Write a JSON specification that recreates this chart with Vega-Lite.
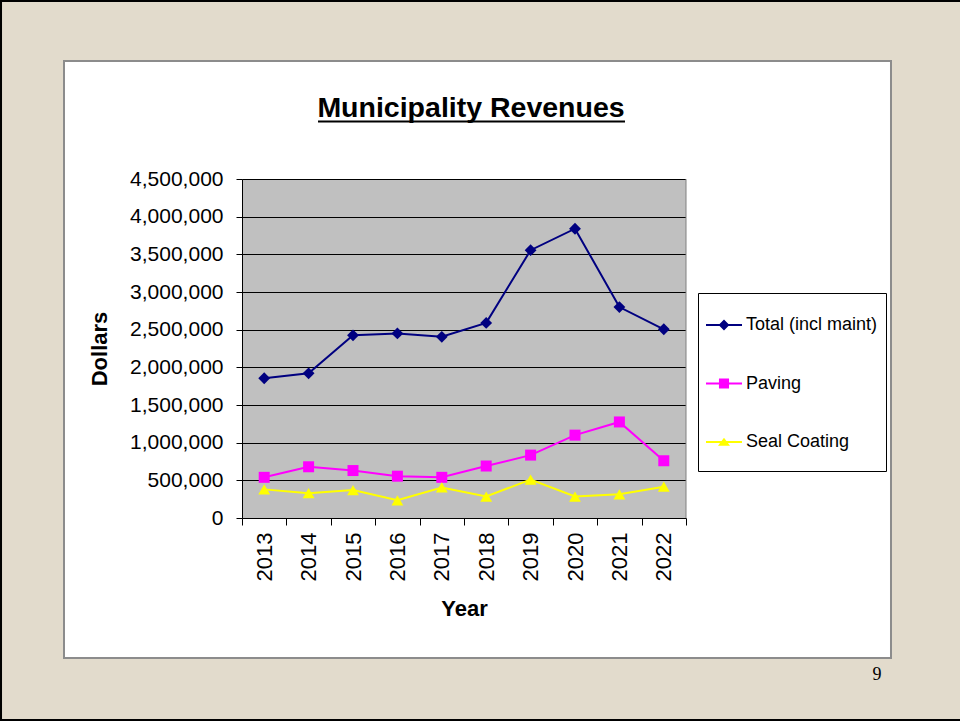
{
  "$schema": "https://vega.github.io/schema/vega-lite/v6.json",
  "width": 444,
  "height": 339,
  "autosize": {"type": "none"},
  "padding": {"left": 242, "top": 179, "right": 274, "bottom": 203},
  "background": "#E2DBCC",
  "config": {
    "font": "Liberation Sans",
    "view": {"fill": "#C0C0C0", "stroke": null},
    "axis": {"labelFont": "Liberation Sans", "titleFont": "Liberation Sans", "labelColor": "#000000", "titleColor": "#000000", "domainColor": "#000000", "tickColor": "#000000", "domainWidth": 1, "tickWidth": 1}
  },
  "title": {"text": "Municipality Revenues", "fontSize": 28.5, "fontWeight": "bold", "font": "Liberation Sans", "color": "#000000", "frame": "group", "anchor": "middle", "baseline": "alphabetic", "offset": 0, "dx": 7, "dy": 147},
  "layer": [
    {
      "data": {"values": [{}]},
      "layer": [
        {"mark": {"type": "rect", "fill": "#FFFFFF", "clip": false}, "encoding": {"x": {"datum": -0.4009, "type": "quantitative", "scale": {"domain": [0, 1], "nice": false, "zero": false}, "axis": null}, "x2": {"datum": 1.4617}, "y": {"datum": 1, "type": "quantitative", "scale": {"domain": [0, 1], "nice": false, "zero": false}, "axis": null}, "y2": {"datum": 1.3481}}},
        {"mark": {"type": "rect", "fill": "#FFFFFF", "clip": false}, "encoding": {"x": {"datum": -0.4009, "type": "quantitative"}, "x2": {"datum": 1.4617}, "y": {"datum": -0.413, "type": "quantitative"}, "y2": {"datum": 0}}},
        {"mark": {"type": "rect", "fill": "#FFFFFF", "clip": false}, "encoding": {"x": {"datum": -0.4009, "type": "quantitative"}, "x2": {"datum": 0}, "y": {"datum": 0, "type": "quantitative"}, "y2": {"datum": 1}}},
        {"mark": {"type": "rect", "fill": "#FFFFFF", "clip": false}, "encoding": {"x": {"datum": 1, "type": "quantitative"}, "x2": {"datum": 1.4617}, "y": {"datum": 0, "type": "quantitative"}, "y2": {"datum": 1}}},
        {"mark": {"type": "rect", "fillOpacity": 0, "stroke": "#8C8C8C", "strokeWidth": 2, "clip": false}, "encoding": {"x": {"datum": -0.4009, "type": "quantitative"}, "x2": {"datum": 1.4617}, "y": {"datum": -0.413, "type": "quantitative"}, "y2": {"datum": 1.3481}}},
        {"mark": {"type": "rect", "fillOpacity": 0, "stroke": "#000000", "strokeWidth": 4, "clip": false}, "encoding": {"x": {"datum": -0.545, "type": "quantitative"}, "x2": {"datum": 1.6306}, "y": {"datum": -0.5988, "type": "quantitative"}, "y2": {"datum": 1.528}}},
        {"mark": {"type": "rule", "stroke": "#808080", "strokeWidth": 1, "clip": false}, "encoding": {"x": {"datum": 1, "type": "quantitative"}, "y": {"datum": 0, "type": "quantitative"}, "y2": {"datum": 1}}},
        {"mark": {"type": "rule", "stroke": "#000000", "strokeWidth": 2, "clip": false}, "encoding": {"x": {"datum": 0.1712, "type": "quantitative"}, "x2": {"datum": 0.8626}, "y": {"datum": 1.1696, "type": "quantitative"}}},
        {"mark": {"type": "text", "text": "9", "font": "Liberation Serif", "fontSize": 18, "color": "#000000", "align": "center", "baseline": "alphabetic", "clip": false}, "encoding": {"x": {"datum": 1.4302, "type": "quantitative"}, "y": {"datum": -0.4779, "type": "quantitative"}}}
      ]
    },
    {
      "data": {"values": []},
      "mark": "rule",
      "encoding": {
        "y": {"field": "v", "type": "quantitative", "scale": {"domain": [0, 4500000], "nice": false}, "axis": {"orient": "right", "grid": true, "gridColor": "#000000", "gridWidth": 1, "gridOpacity": 1, "values": [500000, 1000000, 1500000, 2000000, 2500000, 3000000, 3500000, 4000000, 4500000], "labels": false, "ticks": false, "domain": false, "title": null, "zindex": 0}}
      }
    },
    {
      "data": {"values": [
        {"year": 2013, "series": "Total (incl maint)", "value": 1855000},
        {"year": 2014, "series": "Total (incl maint)", "value": 1920000},
        {"year": 2015, "series": "Total (incl maint)", "value": 2425000},
        {"year": 2016, "series": "Total (incl maint)", "value": 2450000},
        {"year": 2017, "series": "Total (incl maint)", "value": 2405000},
        {"year": 2018, "series": "Total (incl maint)", "value": 2590000},
        {"year": 2019, "series": "Total (incl maint)", "value": 3555000},
        {"year": 2020, "series": "Total (incl maint)", "value": 3840000},
        {"year": 2021, "series": "Total (incl maint)", "value": 2800000},
        {"year": 2022, "series": "Total (incl maint)", "value": 2505000},
        {"year": 2013, "series": "Paving", "value": 540000},
        {"year": 2014, "series": "Paving", "value": 680000},
        {"year": 2015, "series": "Paving", "value": 630000},
        {"year": 2016, "series": "Paving", "value": 555000},
        {"year": 2017, "series": "Paving", "value": 540000},
        {"year": 2018, "series": "Paving", "value": 690000},
        {"year": 2019, "series": "Paving", "value": 835000},
        {"year": 2020, "series": "Paving", "value": 1100000},
        {"year": 2021, "series": "Paving", "value": 1275000},
        {"year": 2022, "series": "Paving", "value": 760000},
        {"year": 2013, "series": "Seal Coating", "value": 380000},
        {"year": 2014, "series": "Seal Coating", "value": 330000},
        {"year": 2015, "series": "Seal Coating", "value": 370000},
        {"year": 2016, "series": "Seal Coating", "value": 235000},
        {"year": 2017, "series": "Seal Coating", "value": 405000},
        {"year": 2018, "series": "Seal Coating", "value": 285000},
        {"year": 2019, "series": "Seal Coating", "value": 510000},
        {"year": 2020, "series": "Seal Coating", "value": 285000},
        {"year": 2021, "series": "Seal Coating", "value": 315000},
        {"year": 2022, "series": "Seal Coating", "value": 415000}
      ]},
      "encoding": {
        "x": {"field": "year", "type": "ordinal", "bandPosition": 0.5, "scale": {"type": "band", "paddingInner": 0, "paddingOuter": 0},
          "axis": {"orient": "bottom", "labelAngle": 270, "labelFontSize": 22, "tickSize": 7, "labelPadding": 7, "tickBand": "extent", "title": "Year", "titleFontSize": 22, "titleFontWeight": "bold", "titlePadding": 18, "zindex": 1, "grid": false, "labelOverlap": false}},
        "y": {"field": "value", "type": "quantitative", "scale": {"domain": [0, 4500000], "nice": false},
          "axis": {"orient": "left", "values": [0, 500000, 1000000, 1500000, 2000000, 2500000, 3000000, 3500000, 4000000, 4500000], "format": ",d", "labelFontSize": 21, "tickSize": 6, "labelPadding": 13, "grid": false, "zindex": 1, "title": "Dollars", "titleFontSize": 22, "titleFontWeight": "bold", "titlePadding": 18, "labelOverlap": false}}
      },
      "layer": [
        {"transform": [{"filter": "datum.series === 'Total (incl maint)'"}], "mark": {"type": "line", "color": "#000080", "strokeWidth": 2}},
        {"transform": [{"filter": "datum.series === 'Paving'"}], "mark": {"type": "line", "color": "#FF00FF", "strokeWidth": 2}},
        {"transform": [{"filter": "datum.series === 'Seal Coating'"}], "mark": {"type": "line", "color": "#FFFF00", "strokeWidth": 2}},
        {"transform": [{"filter": "datum.series === 'Total (incl maint)'"}], "mark": {"type": "point", "shape": "diamond", "filled": true, "size": 140, "color": "#000080", "opacity": 1}},
        {"transform": [{"filter": "datum.series === 'Paving'"}], "mark": {"type": "point", "shape": "square", "filled": true, "size": 121, "color": "#FF00FF", "opacity": 1}},
        {"transform": [{"filter": "datum.series === 'Seal Coating'"}], "mark": {"type": "point", "shape": "triangle-up", "filled": true, "size": 140, "color": "#FFFF00", "opacity": 1}},
        {"transform": [{"filter": "false"}], "mark": {"type": "point", "filled": true, "opacity": 1, "size": 2304},
          "encoding": {
            "color": {"field": "series", "type": "nominal", "scale": {"domain": ["Total (incl maint)", "Paving", "Seal Coating"], "range": ["#000080", "#FF00FF", "#FFFF00"]},
              "legend": {"title": null, "orient": "none", "legendX": 456, "legendY": 114, "fillColor": "#FFFFFF", "strokeColor": "#000000", "padding": 8, "rowPadding": 13.5, "labelFontSize": 18, "labelFont": "Liberation Sans", "labelColor": "#000000", "symbolSize": 2304, "symbolStrokeWidth": 0, "labelOffset": -8}},
            "shape": {"field": "series", "type": "nominal", "scale": {"domain": ["Total (incl maint)", "Paving", "Seal Coating"], "range": ["M0,-0.875M0,0.875M-1,-0.042H0.5V0.042H-1ZM-0.25,-0.225L-0.025,0L-0.25,0.225L-0.475,0Z", "M0,-0.875M0,0.875M-1,-0.042H0.5V0.042H-1ZM-0.46,-0.21H-0.04V0.21H-0.46Z", "M0,-0.875M0,0.875M-1,-0.042H0.5V0.042H-1ZM-0.25,-0.18L0,0.16H-0.5Z"]},
              "legend": {"title": null, "orient": "none", "legendX": 456, "legendY": 114, "fillColor": "#FFFFFF", "strokeColor": "#000000", "padding": 8, "rowPadding": 13.5, "labelFontSize": 18, "labelFont": "Liberation Sans", "labelColor": "#000000", "symbolSize": 2304, "symbolStrokeWidth": 0, "labelOffset": -8}}
          }}
      ]
    }
  ],
  "resolve": {"scale": {"x": "independent", "y": "independent"}}
}
